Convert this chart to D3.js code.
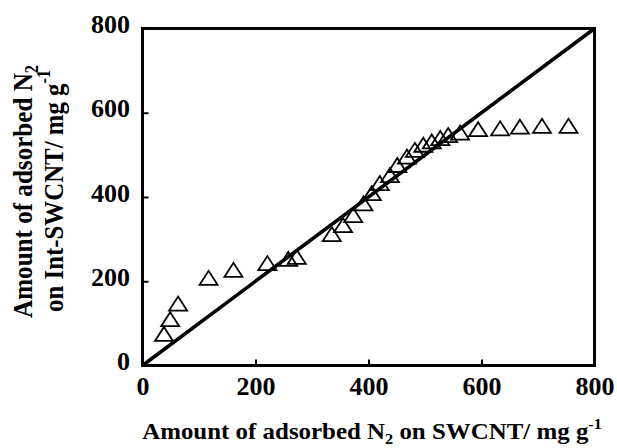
<!DOCTYPE html>
<html>
<head>
<meta charset="utf-8">
<script src="https://cdn.jsdelivr.net/npm/d3@7"></script>
<style>
  html, body { margin: 0; padding: 0; background: #fff; }
  svg { display: block; }
  text { font-family: "Liberation Serif", "Times New Roman", serif; font-weight: bold; fill: #000; }
</style>
</head>
<body>
<svg id="chart" width="617" height="448"></svg>
<script>
// N2 uptake: SWCNT (x) versus Int-SWCNT (y), mg g-1
const swcnt = [38, 49, 63, 117, 161, 221, 258, 273, 335, 355, 373, 391, 406, 420, 438, 451, 468, 482, 497, 512, 527, 541, 562, 594, 633, 668, 707, 754];
const intSwcnt = [75, 110, 147, 208, 227, 243, 253, 258, 312, 333, 357, 385, 409, 433, 452, 476, 496, 512, 524, 532, 540, 547, 553, 561, 563, 567, 569, 569];
const xTicks = [0, 200, 400, 600, 800];
const yTicks = [0, 200, 400, 600, 800];
const identityLine = [[0, 0], [800, 800]];

const serif = "'Liberation Serif', 'Times New Roman', serif";
const svg = d3.select("#chart");
const x = d3.scaleLinear().domain([0, 800]).range([142.5, 594.5]);
const y = d3.scaleLinear().domain([0, 800]).range([365.5, 28.5]);

// y = x reference line
svg.append("path")
  .datum(identityLine)
  .attr("d", d3.line().x(d => x(d[0])).y(d => y(d[1])))
  .attr("fill", "none")
  .attr("stroke", "#000")
  .attr("stroke-width", 3.6);

// open triangle markers
const triW = 18, triH = 14;
const tri = `M0,${-triH / 2}L${triW / 2},${triH / 2}L${-triW / 2},${triH / 2}Z`;
svg.append("g")
  .selectAll("path")
  .data(swcnt.map((v, i) => [v, intSwcnt[i]]))
  .join("path")
  .attr("d", tri)
  .attr("transform", d => `translate(${x(d[0])},${y(d[1])})`)
  .attr("fill", "none")
  .attr("stroke", "#000")
  .attr("stroke-width", 1.8)
  .attr("stroke-linejoin", "miter");

// axes with inward ticks
const yAxis = svg.append("g")
  .attr("transform", `translate(${x(0)},0)`)
  .call(d3.axisLeft(y).tickValues(yTicks).tickSize(-6).tickPadding(12.5).tickFormat(d3.format("d")));
const xAxis = svg.append("g")
  .attr("transform", `translate(0,${y(0)})`)
  .call(d3.axisBottom(x).tickValues(xTicks).tickSize(-6).tickPadding(11).tickFormat(d3.format("d")));

[yAxis, xAxis].forEach(a => {
  a.attr("font-family", serif).attr("font-size", 26).attr("font-weight", "bold");
  a.select(".domain").remove();
  a.selectAll(".tick line").attr("stroke", "#000").attr("stroke-width", 2);
  a.selectAll(".tick text")
    .attr("font-family", serif)
    .attr("font-weight", "bold")
    .attr("font-size", 26)
    .attr("fill", "#000");
});
yAxis.selectAll(".tick text").attr("dy", "0.16em");

// plot frame
svg.append("rect")
  .attr("x", x(0)).attr("y", y(800))
  .attr("width", x(800) - x(0)).attr("height", y(0) - y(800))
  .attr("fill", "none")
  .attr("stroke", "#000")
  .attr("stroke-width", 3);

// label builder: parts = [text, "sub"|"sup"|null]; offsets are undone on the following run
function richText(sel, parts, size) {
  const t = sel.append("text").attr("text-anchor", "middle").attr("font-size", size);
  let back = 0;
  parts.forEach(([s, kind]) => {
    const span = t.append("tspan").text(s);
    if (kind === "sub" || kind === "sup") {
      const shift = kind === "sub" ? 0.22 * size : -0.45 * size;
      span.attr("dy", shift + back).attr("font-size", 0.65 * size);
      back = -shift;
    } else if (back) {
      span.attr("dy", back);
      back = 0;
    }
  });
  return t;
}
function fitWidth(t, width) {
  const w = t.node().getBBox().width;
  t.attr("transform", `scale(${width / w},1)`);
}

// x axis title
const xt = svg.append("g").attr("transform", "translate(372,439)");
fitWidth(richText(xt, [["Amount of adsorbed N"], ["2", "sub"], [" on SWCNT/ mg g"], ["-1", "sup"]], 23), 460);

// y axis title, two lines
const yt1 = svg.append("g").attr("transform", "translate(32,191.5) rotate(-90)");
fitWidth(richText(yt1, [["Amount of adsorbed N"], ["2", "sub"]], 28), 253);
const yt2 = svg.append("g").attr("transform", "translate(63,191) rotate(-90)");
fitWidth(richText(yt2, [["on Int-SWCNT/ mg g"], ["-1", "sup"]], 28), 242);
</script>
</body>
</html>
